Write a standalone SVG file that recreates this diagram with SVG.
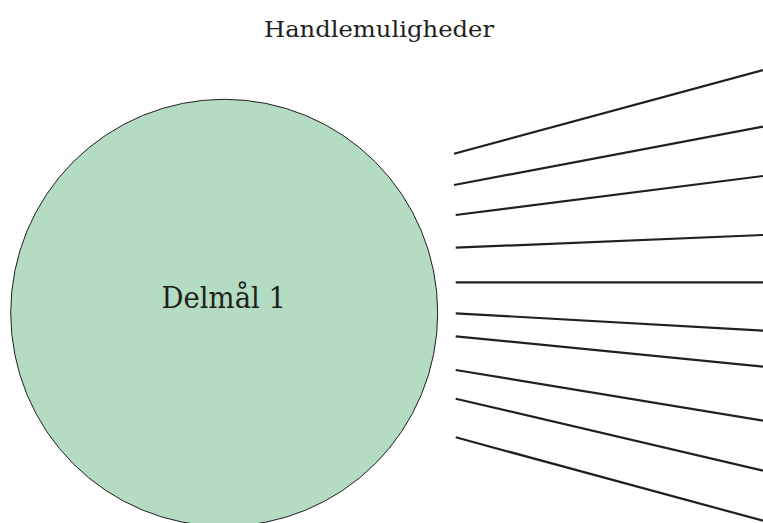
<svg xmlns="http://www.w3.org/2000/svg" width="763" height="523" viewBox="0 0 763 523">
<style>
.txt{font-family:"DejaVu Serif","Liberation Serif",serif;fill:#231f20;}
.ln{stroke:#231f20;stroke-width:2.2;fill:none;}
</style>
<rect width="763" height="523" fill="#ffffff"/>
<g id="title">
<text class="txt" x="379" y="36.7" font-size="21.5" text-anchor="middle" textLength="230" lengthAdjust="spacingAndGlyphs">Handlemuligheder</text>
</g>
<g id="delmaal1">
<circle cx="224.2" cy="312.8" r="213.5" fill="#b3dcc2" stroke="#231f20" stroke-width="1"/>
<text class="txt" x="223.8" y="308.3" font-size="29" text-anchor="middle" textLength="124.5" lengthAdjust="spacingAndGlyphs">Delmål 1</text>
</g>
<g id="connectors">
<line class="ln" x1="454" y1="153.7" x2="763" y2="70"/>
<line class="ln" x1="454" y1="185" x2="763" y2="126.7"/>
<line class="ln" x1="455.7" y1="215" x2="763" y2="176"/>
<line class="ln" x1="455.7" y1="247.7" x2="763" y2="235"/>
<line class="ln" x1="455.7" y1="282.3" x2="763" y2="282.3"/>
<line class="ln" x1="455.7" y1="313.3" x2="763" y2="330.7"/>
<line class="ln" x1="455.7" y1="336.3" x2="763" y2="366.7"/>
<line class="ln" x1="455.7" y1="370" x2="763" y2="420.7"/>
<line class="ln" x1="455.7" y1="398.7" x2="763" y2="470.7"/>
<line class="ln" x1="455.7" y1="437.3" x2="763" y2="520.7"/>
</g>
</svg>
